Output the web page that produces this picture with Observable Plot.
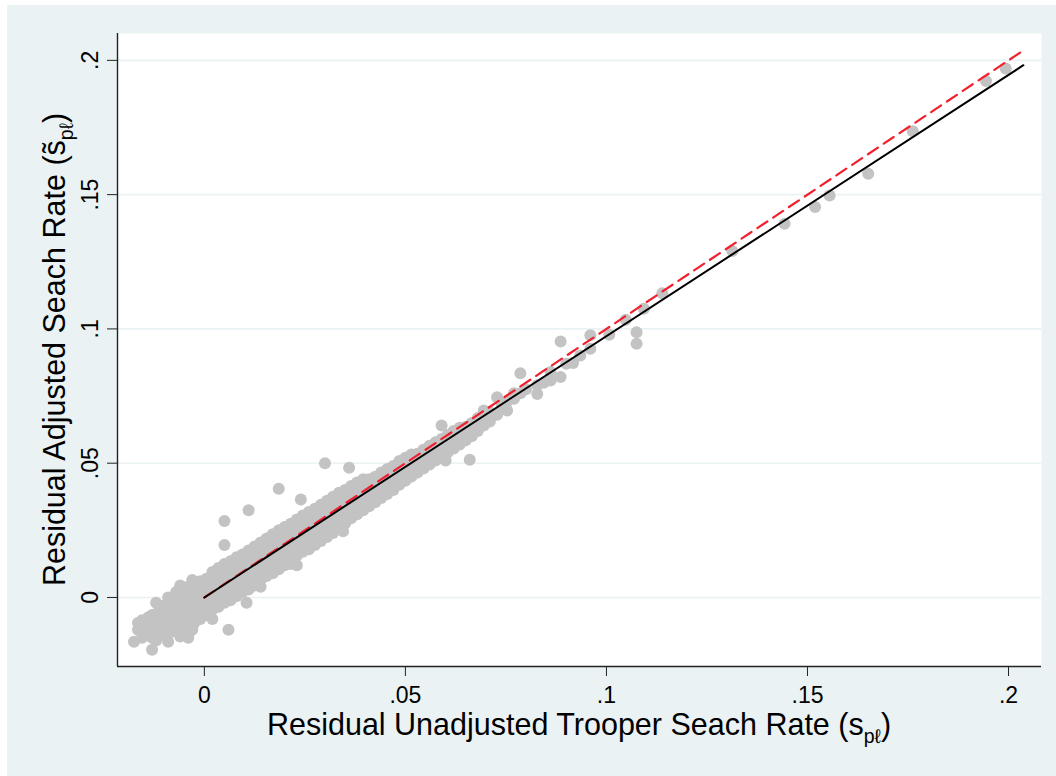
<!DOCTYPE html>
<html><head><meta charset="utf-8">
<script src="https://cdn.jsdelivr.net/npm/d3@7"></script>
<script src="https://cdn.jsdelivr.net/npm/@observablehq/plot@0.6"></script>
<style>
html,body{margin:0;padding:0;background:#fff;}
#chart{position:absolute;left:7px;top:5px;width:1049px;height:771px;background:#eaf2f3;overflow:hidden;}
</style></head><body><div id="chart"></div>
<script>
const xTicks = [0, 0.05, 0.1, 0.15, 0.2];
const yTicks = [0, 0.05, 0.1, 0.15, 0.2];
// fitted regression line (solid black) and 45-degree line (red dashed)
const fitX = [0, 0.2037];
const fitY = [0, 0.1982];
const diagX = [0, 0.2037];
const diagY = [0, 0.2037];
const xTitle = "Residual Unadjusted Trooper Seach Rate (s";
const yTitle = "Residual Adjusted Seach Rate (s\u0303";
const subText = "p\u2113";

// scatter points, grouped by column of x
const colX = [-0.0175,-0.0165,-0.0155,-0.0140,-0.0130,-0.0120,-0.0115,-0.0100,-0.0090,-0.0085,-0.0070,-0.0060,-0.0055,-0.0040,-0.0030,-0.0025,-0.0010,0.0005,0.0020,0.0035,0.0050,0.0060,0.0065,0.0080,0.0095,0.0105,0.0110,0.0125,0.0140,0.0155,0.0170,0.0185,0.0200,0.0215,0.0230,0.0240,0.0245,0.0260,0.0275,0.0290,0.0300,0.0305,0.0320,0.0335,0.0345,0.0350,0.0360,0.0365,0.0380,0.0395,0.0410,0.0425,0.0440,0.0455,0.0470,0.0485,0.0500,0.0515,0.0530,0.0545,0.0560,0.0575,0.0590,0.0600,0.0605,0.0620,0.0635,0.0650,0.0660,0.0665,0.0680,0.0695,0.0710,0.0728,0.0740,0.0753,0.0770,0.0786,0.0800,0.0828,0.0845,0.0861,0.0886,0.0900,0.0917,0.0935,0.0960,0.1007,0.1048,0.1075,0.1093,0.1139,0.1313,0.1443,0.1519,0.1555,0.1651,0.1762,0.1944,0.1993];
const colY = [
[-0.0165],
[-0.0120,-0.0095],
[-0.0150,-0.0105,-0.0085],
[-0.0130,-0.0100,-0.0075],
[-0.0195,-0.0150,-0.0120,-0.0090,-0.0065],
[-0.0160,-0.0020],
[-0.0135,-0.0110,-0.0080,-0.0055],
[-0.0140,-0.0115,-0.0085,-0.0060,-0.0030],
[-0.0165,0.0000],
[-0.0130,-0.0100,-0.0070,-0.0045,-0.0015],
[-0.0125,-0.0095,-0.0065,-0.0035,-0.0005,0.0020],
[-0.0145,0.0045],
[-0.0115,-0.0085,-0.0055,-0.0025,0.0005,0.0030],
[-0.0150,-0.0105,-0.0075,-0.0045,-0.0015,0.0015,0.0040],
[-0.0120,0.0065],
[-0.0095,-0.0065,-0.0035,-0.0005,0.0025,0.0050],
[-0.0080,-0.0050,-0.0020,0.0010,0.0040,0.0060],
[-0.0065,-0.0035,-0.0005,0.0025,0.0050,0.0070],
[-0.0080,-0.0045,-0.0015,0.0015,0.0045,0.0075,0.0095],
[-0.0035,-0.0005,0.0025,0.0055,0.0085,0.0110],
[-0.0020,0.0010,0.0040,0.0070,0.0100,0.0125,0.0195,0.0285],
[-0.0120],
[-0.0010,0.0020,0.0050,0.0080,0.0110,0.0135],
[0.0005,0.0035,0.0065,0.0095,0.0125,0.0150],
[0.0020,0.0050,0.0080,0.0110,0.0140,0.0160],
[-0.0020],
[0.0030,0.0060,0.0090,0.0120,0.0150,0.0175,0.0325],
[0.0045,0.0075,0.0105,0.0135,0.0165,0.0190],
[0.0040,0.0065,0.0095,0.0125,0.0155,0.0185,0.0205],
[0.0080,0.0110,0.0140,0.0170,0.0200,0.0220],
[0.0090,0.0120,0.0150,0.0180,0.0210,0.0235],
[0.0105,0.0135,0.0165,0.0195,0.0225,0.0250,0.0405],
[0.0120,0.0150,0.0180,0.0210,0.0240,0.0262],
[0.0125,0.0140,0.0165,0.0195,0.0225,0.0255,0.0275],
[0.0120,0.0155,0.0185,0.0215,0.0245,0.0275,0.0290],
[0.0365],
[0.0170,0.0200,0.0230,0.0260,0.0290,0.0305],
[0.0180,0.0210,0.0240,0.0270,0.0300,0.0318],
[0.0195,0.0225,0.0255,0.0285,0.0315,0.0330],
[0.0210,0.0240,0.0270,0.0300,0.0330,0.0345],
[0.0500],
[0.0225,0.0255,0.0285,0.0315,0.0345,0.0360],
[0.0240,0.0270,0.0300,0.0330,0.0360,0.0375],
[0.0255,0.0285,0.0315,0.0345,0.0375,0.0390],
[0.0247],
[0.0275,0.0300,0.0330,0.0360,0.0390,0.0400],
[0.0483],
[0.0295,0.0320,0.0345,0.0375,0.0405,0.0415],
[0.0310,0.0335,0.0360,0.0390,0.0415,0.0428],
[0.0325,0.0350,0.0375,0.0405,0.0425,0.0440],
[0.0340,0.0365,0.0390,0.0415,0.0440],
[0.0355,0.0380,0.0405,0.0430,0.0450],
[0.0370,0.0395,0.0420,0.0445,0.0465],
[0.0385,0.0410,0.0435,0.0460,0.0478],
[0.0400,0.0425,0.0450,0.0475,0.0490],
[0.0420,0.0445,0.0470,0.0490,0.0508],
[0.0435,0.0460,0.0485,0.0505,0.0520],
[0.0450,0.0475,0.0500,0.0520,0.0532],
[0.0465,0.0490,0.0515,0.0535],
[0.0480,0.0505,0.0530,0.0550],
[0.0495,0.0520,0.0545,0.0565],
[0.0510,0.0535,0.0560,0.0578],
[0.0525,0.0550,0.0575,0.0590,0.0640],
[0.0510],
[0.0540,0.0565,0.0590,0.0605],
[0.0555,0.0580,0.0605,0.0620],
[0.0570,0.0595,0.0620,0.0632],
[0.0585,0.0610,0.0635],
[0.0513],
[0.0600,0.0625,0.0650],
[0.0620,0.0645,0.0668],
[0.0640,0.0665,0.0696],
[0.0655,0.0672,0.0690],
[0.0680,0.0746],
[0.0700,0.0720],
[0.0696,0.0730],
[0.0740,0.0760],
[0.0760,0.0835],
[0.0775],
[0.0758,0.0790],
[0.0800],
[0.0808,0.0840],
[0.0821,0.0953],
[0.0870],
[0.0873],
[0.0901],
[0.0926,0.0976],
[0.0978],
[0.1034],
[0.0945,0.0988],
[0.1075],
[0.1133],
[0.1290],
[0.1392],
[0.1454],
[0.1497],
[0.1578],
[0.1736],
[0.1923],
[0.1970]
];

const points = colX.flatMap((x, i) => colY[i].map(y => ({x, y})));
const fitLine = fitX.map((x, i) => ({x, y: fitY[i]}));
const diagLine = diagX.map((x, i) => ({x, y: diagY[i]}));
const xDomain = [-0.0216, 0.2082];
const yDomain = [-0.0257, 0.210];
const fmt = d => d === 0 ? "0" : String(d).replace(/^0/, "");
const FONT = "'Liberation Sans', Arial, Helvetica, sans-serif";

const W = 1049, H = 771, ML = 110, MR = 15, MT = 28, MB = 110;

const chart = Plot.plot({
  width: W, height: H,
  marginLeft: ML, marginRight: MR, marginTop: MT, marginBottom: MB,
  style: {background: "transparent", color: "#000", fontFamily: FONT, overflow: "visible"},
  x: {domain: xDomain, axis: null},
  y: {domain: yDomain, axis: null},
  marks: [
    Plot.frame({fill: "white", stroke: "none"}),
    Plot.gridY(yTicks, {stroke: "#eaf2f3", strokeOpacity: 1, strokeWidth: 1.6}),
    Plot.dot(points, {x: "x", y: "y", r: 6, fill: "#c3c3c3", stroke: "none"}),
    Plot.line(diagLine, {x: "x", y: "y", stroke: "#f2202e", strokeWidth: 2.2, strokeDasharray: "12,7"}),
    Plot.line(fitLine, {x: "x", y: "y", stroke: "#000", strokeWidth: 2}),
    Plot.ruleX([xDomain[0]], {stroke: "#222", strokeWidth: 1.4}),
    Plot.ruleY([yDomain[0]], {stroke: "#222", strokeWidth: 1.4}),
    Plot.axisX(xTicks, {tickSize: 10, tickPadding: 10, fontSize: 23, tickFormat: fmt, label: null, stroke: "#222"}),
    Plot.axisY(yTicks, {tickSize: 10, tickFormat: () => "", label: null, stroke: "#222"}),
    Plot.text(yTicks, {y: d => d, text: fmt, frameAnchor: "left", dx: -20, rotate: -90, lineAnchor: "bottom", textAnchor: "middle", fontSize: 23, fill: "#000"})
  ]
});

const svg = d3.select(chart);
const xt = svg.append("text")
  .attr("x", ML + (W - ML - MR) / 2).attr("y", 730)
  .attr("text-anchor", "middle").attr("font-size", 30.5).attr("font-family", FONT).attr("fill", "#000");
xt.append("tspan").text(xTitle);
xt.append("tspan").attr("font-size", 19.5).attr("dy", 8).text(subText);
xt.append("tspan").attr("font-size", 30.5).attr("dy", -8).text(")");

const yt = svg.append("text")
  .attr("transform", `translate(58,${MT + (H - MT - MB) / 2}) rotate(-90)`)
  .attr("text-anchor", "middle").attr("font-size", 30.5).attr("font-family", FONT).attr("fill", "#000");
yt.append("tspan").text(yTitle);
yt.append("tspan").attr("font-size", 19.5).attr("dy", 8).text(subText);
yt.append("tspan").attr("font-size", 30.5).attr("dy", -8).text(")");

document.getElementById("chart").appendChild(chart);
</script></body></html>
